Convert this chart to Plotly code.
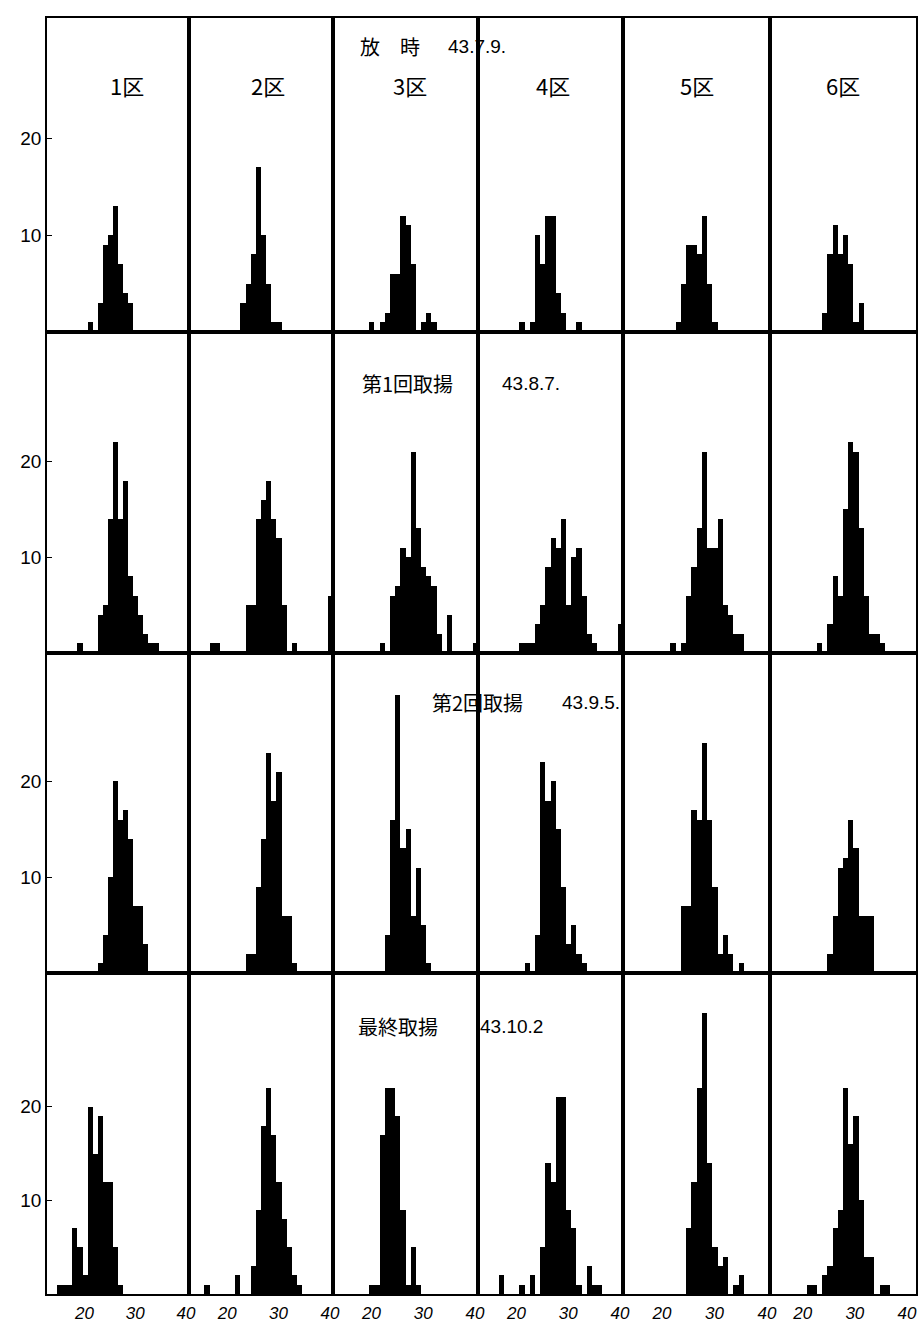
import plotly.graph_objects as go
from plotly.subplots import make_subplots

# ---- text ----
districts = ["1区", "2区", "3区", "4区", "5区", "6区"]
sample_titles = ["放　時", "第1回取揚", "第2回取揚", "最終取揚"]
sample_dates = ["43.7.9.", "43.8.7.", "43.9.5.", "43.10.2"]
x_ticks = [20, 30, 40]
y_ticks = [10, 20]

# ---- data: length class (lower edge) and number of fish, per district ----
release_lengths = [
    [20, 22, 23, 24, 25, 26, 27, 28],
    [22, 23, 24, 25, 26, 27, 28, 29],
    [19, 21, 22, 23, 24, 25, 26, 27, 29, 30, 31],
    [20, 22, 23, 24, 25, 26, 27, 28, 31],
    [22, 23, 24, 25, 26, 27, 28, 29],
    [22, 23, 24, 25, 26, 27, 28, 29],
]
release_counts = [
    [1, 3, 9, 10, 13, 7, 4, 3],
    [3, 5, 8, 17, 10, 5, 1, 1],
    [1, 1, 2, 6, 6, 12, 11, 7, 1, 2, 1],
    [1, 1, 10, 7, 12, 12, 4, 2, 1],
    [1, 5, 9, 9, 8, 12, 5, 1],
    [2, 8, 11, 8, 10, 7, 1, 3],
]

harvest1_lengths = [
    [18, 22, 23, 24, 25, 26, 27, 28, 29, 30, 31, 32, 33],
    [16, 17, 23, 24, 25, 26, 27, 28, 29, 30, 32, 39],
    [21, 23, 24, 25, 26, 27, 28, 29, 30, 31, 32, 34, 39],
    [20, 21, 22, 23, 24, 25, 26, 27, 28, 29, 30, 31, 32, 33, 34, 39],
    [21, 23, 24, 25, 26, 27, 28, 29, 30, 31, 32, 33, 34],
    [21, 23, 24, 25, 26, 27, 28, 29, 30, 31, 32, 33],
]
harvest1_counts = [
    [1, 4, 5, 14, 22, 14, 18, 8, 6, 4, 2, 1, 1],
    [1, 1, 5, 5, 14, 16, 18, 14, 12, 5, 1, 6],
    [1, 6, 7, 11, 10, 21, 13, 9, 8, 7, 2, 4, 1],
    [1, 1, 1, 3, 5, 9, 12, 11, 14, 5, 10, 11, 6, 2, 1, 3],
    [1, 1, 6, 9, 13, 21, 11, 11, 14, 5, 4, 2, 2],
    [1, 3, 8, 6, 15, 22, 21, 13, 6, 2, 2, 1],
]

harvest2_lengths = [
    [22, 23, 24, 25, 26, 27, 28, 29, 30, 31],
    [23, 24, 25, 26, 27, 28, 29, 30, 31, 32],
    [22, 23, 24, 25, 26, 27, 28, 29, 30],
    [21, 23, 24, 25, 26, 27, 28, 29, 30, 31, 32],
    [23, 24, 25, 26, 27, 28, 29, 30, 31, 32, 34],
    [23, 24, 25, 26, 27, 28, 29, 30, 31],
]
harvest2_counts = [
    [1, 4, 10, 20, 16, 17, 14, 7, 7, 3],
    [2, 2, 9, 14, 23, 18, 21, 6, 6, 1],
    [4, 16, 29, 13, 15, 6, 11, 5, 1],
    [1, 4, 22, 18, 20, 15, 9, 3, 5, 2, 1],
    [7, 7, 17, 16, 24, 16, 9, 2, 4, 2, 1],
    [2, 6, 11, 12, 16, 13, 6, 6, 6],
]

final_lengths = [
    [14, 15, 16, 17, 18, 19, 20, 21, 22, 23, 24, 25, 26],
    [15, 21, 24, 25, 26, 27, 28, 29, 30, 31, 32, 33],
    [19, 20, 21, 22, 23, 24, 25, 26, 27, 28],
    [16, 20, 22, 24, 25, 26, 27, 28, 29, 30, 31, 33, 34, 35],
    [24, 25, 26, 27, 28, 29, 30, 31, 33, 34],
    [19, 20, 22, 23, 24, 25, 26, 27, 28, 29, 30, 31, 33, 34],
]
final_counts = [
    [1, 1, 1, 7, 5, 2, 20, 15, 19, 12, 12, 5, 1],
    [1, 2, 3, 9, 18, 22, 17, 12, 8, 5, 2, 1],
    [1, 1, 17, 22, 22, 19, 9, 1, 5, 1],
    [2, 1, 2, 5, 14, 12, 21, 21, 9, 7, 1, 3, 1, 1],
    [7, 12, 22, 30, 14, 5, 3, 4, 1, 2],
    [1, 1, 2, 3, 7, 9, 22, 16, 19, 10, 4, 4, 1, 1],
]

all_lengths = [release_lengths, harvest1_lengths, harvest2_lengths, final_lengths]
all_counts = [release_counts, harvest1_counts, harvest2_counts, final_counts]

# ---- layout geometry (pixels) ----
W, H = 921, 1324
L, R, T, B = 47, 5, 18, 30
col_widths = [142, 144, 145, 145, 147, 146]
row_heights = [314, 321, 320, 321]
y_tops = [32.4, 33.5, 33.4, 34.3]

fig = make_subplots(rows=4, cols=6, horizontal_spacing=0, vertical_spacing=0,
                    column_widths=col_widths, row_heights=row_heights)

for r in range(4):
    for c in range(6):
        lens = all_lengths[r][c]
        cnts = all_counts[r][c]
        fig.add_trace(go.Bar(
            x=[v + 0.5 for v in lens], y=cnts, width=1,
            marker=dict(color="black", line=dict(width=0)),
            hoverinfo="x+y"), row=r + 1, col=c + 1)

axis_font = dict(family="Liberation Sans, DejaVu Sans", size=19, color="black")
for r in range(4):
    for c in range(6):
        fig.update_xaxes(range=[12, 40], showgrid=False, zeroline=False, automargin=False,
                         showline=True, mirror=True, linecolor="black", linewidth=1.8,
                         ticks="", tickvals=x_ticks, ticktext=[str(v) for v in x_ticks],
                         showticklabels=(r == 3),
                         ticklabelshift=(-9 if c == 5 else -3), ticklabelstandoff=3,
                         ticklabeloverflow="allow",
                         tickfont=dict(family="Liberation Sans, DejaVu Sans", size=17,
                                       color="black", style="italic"),
                         row=r + 1, col=c + 1)
        fig.update_yaxes(range=[0, y_tops[r]], showgrid=False, zeroline=False, automargin=False,
                         showline=True, mirror=True, linecolor="black", linewidth=1.8,
                         tickvals=y_ticks, ticktext=[str(v) for v in y_ticks],
                         ticks="inside" if c == 0 else "", ticklen=5, tickcolor="black",
                         showticklabels=(c == 0), tickfont=axis_font,
                         row=r + 1, col=c + 1)

PW = W - L - R
PH = H - T - B


def px(x):
    return (x - L) / PW


def py(y):
    return 1 - (y - T) / PH


jp = "Noto Sans CJK JP"
ann = []
# district headers
header_x = [127, 268, 410, 553, 697, 843]
for name, hx in zip(districts, header_x):
    ann.append(dict(x=px(hx), y=py(85), text=name, showarrow=False,
                    xref="paper", yref="paper", xanchor="center", yanchor="middle",
                    font=dict(family=jp, size=22, color="black")))

title_pos = [(358, 46), (360, 383), (430, 702), (356, 1026)]
date_pos = [(446, 46), (500, 383), (560, 702), (478, 1026)]
for (t, d, (tx, ty), (dx, dy)) in zip(sample_titles, sample_dates, title_pos, date_pos):
    ann.append(dict(x=px(tx), y=py(ty), text=t, showarrow=False,
                    xref="paper", yref="paper", xanchor="left", yanchor="middle",
                    font=dict(family=jp, size=20, color="black")))
    ann.append(dict(x=px(dx), y=py(dy), text=d, showarrow=False,
                    xref="paper", yref="paper", xanchor="left", yanchor="middle",
                    font=dict(family="Liberation Sans, DejaVu Sans", size=19, color="black")))

fig.update_layout(width=W, height=H, margin=dict(l=L, r=R, t=T, b=B, autoexpand=False),
                  paper_bgcolor="white", plot_bgcolor="white",
                  showlegend=False, bargap=0, annotations=ann)

fig.write_html("out.html", config={"displayModeBar": False},
               post_script="document.body.style.margin='0';document.body.style.overflow='hidden';")
